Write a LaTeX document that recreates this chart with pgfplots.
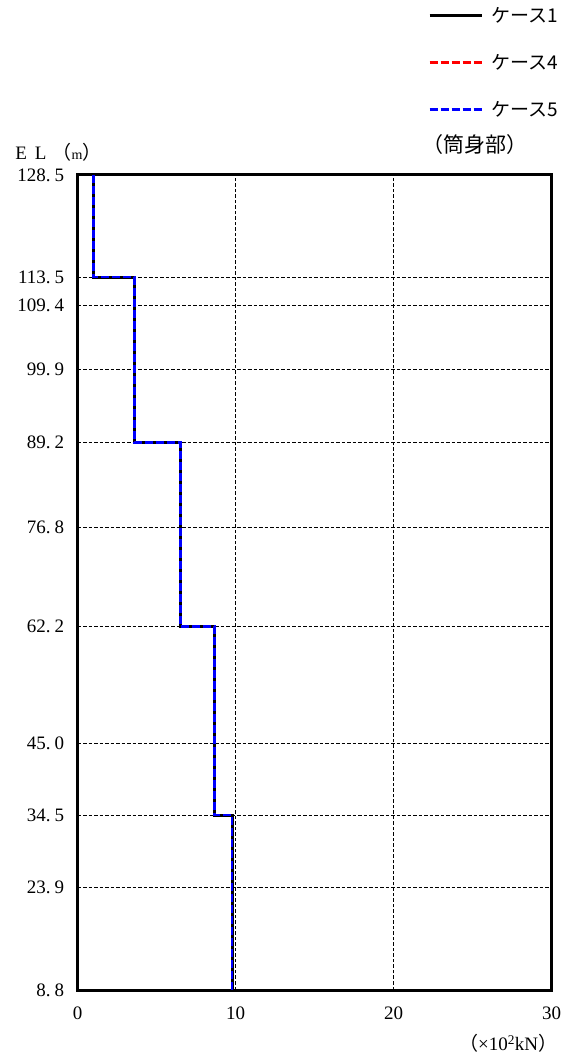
\documentclass[border=0pt]{standalone}
\usepackage{fontspec}
\setmainfont{Liberation Serif}
\newfontfamily\cjk{Noto Sans CJK JP}
\usepackage{pgfplots}
\pgfplotsset{compat=1.18}
\newcommand\el[2]{#1.\hspace{4pt}#2}
\newcommand\fs{\fontsize{19}{19}\selectfont}
\begin{document}
\begin{tikzpicture}
\useasboundingbox (0,0) rectangle (566pt,1056pt);
\begin{axis}[
  at={(77.7pt,66pt)}, anchor=south west,
  scale only axis, width=474pt, height=815pt,
  xmin=0, xmax=30, ymin=8.8, ymax=128.5,
  xtick={0,10,20,30}, xticklabels={0,10,20,30},
  ytick={8.8,23.9,34.5,45.0,62.2,76.8,89.2,99.9,109.4,113.5,128.5},
  yticklabels={\el{8}{8},\el{23}{9},\el{34}{5},\el{45}{0},\el{62}{2},\el{76}{8},\el{89}{2},\el{99}{9},\el{109}{4},\el{113}{5},\el{128}{5}},
  major tick length=0pt,
  axis line style={line width=3pt},
  grid=major,
  major grid style={black, line width=0.9pt, dash pattern=on 3.5pt off 2pt},
  x tick label style={font=\fs, yshift=-13pt},
  y tick label style={font=\fs, xshift=-10pt},
  legend cell align=left,
  legend image code/.code={\draw[#1] (0pt,0pt) -- (52pt,0pt);},
  legend style={at={(0.739,1.2063)}, anchor=north west, draw=none, fill=none, inner sep=0pt,
    font=\cjk\fontsize{19}{19}\selectfont, row sep=30.5pt,
    nodes={inner sep=0pt, outer sep=0pt}, column sep=8pt},
  clip=false,
]
\addplot[black, line width=3pt, forget plot] coordinates {(0.99,128.5)(0.99,113.5)(3.59,113.5)(3.59,89.2)(6.49,89.2)(6.49,62.2)(8.67,62.2)(8.67,34.5)(9.77,34.5)(9.77,8.8)};
\addlegendimage{black, line width=3pt}
\addlegendentry{ケース1}
\addplot[red, line width=2.6pt, dash pattern=on 8pt off 3pt] coordinates {(0.99,128.5)(0.99,113.5)(3.59,113.5)(3.59,89.2)(6.49,89.2)(6.49,62.2)(8.67,62.2)(8.67,34.5)(9.77,34.5)(9.77,8.8)};
\addlegendentry{ケース4}
\addplot[blue, line width=2.6pt, dash pattern=on 8pt off 3pt] coordinates {(0.99,128.5)(0.99,113.5)(3.59,113.5)(3.59,89.2)(6.49,89.2)(6.49,62.2)(8.67,62.2)(8.67,34.5)(9.77,34.5)(9.77,8.8)};
\addlegendentry{ケース5}
\node[font=\cjk\fontsize{21}{21}\selectfont] at (axis description cs:0.838,1.0368) {（筒身部）};
\node[anchor=west, inner sep=0pt, font=\fs] at (axis description cs:-0.132,1.0282) {E\hspace{8pt}L\hspace{6pt}{\cjk（}{\fontsize{14}{14}\selectfont m}{\cjk）}};
\node[anchor=east, inner sep=0pt, font=\fs] at (axis description cs:1.012,-0.0655) {{\cjk（}×10\textsuperscript{2}kN{\cjk）}};
\end{axis}
\end{tikzpicture}
\end{document}
